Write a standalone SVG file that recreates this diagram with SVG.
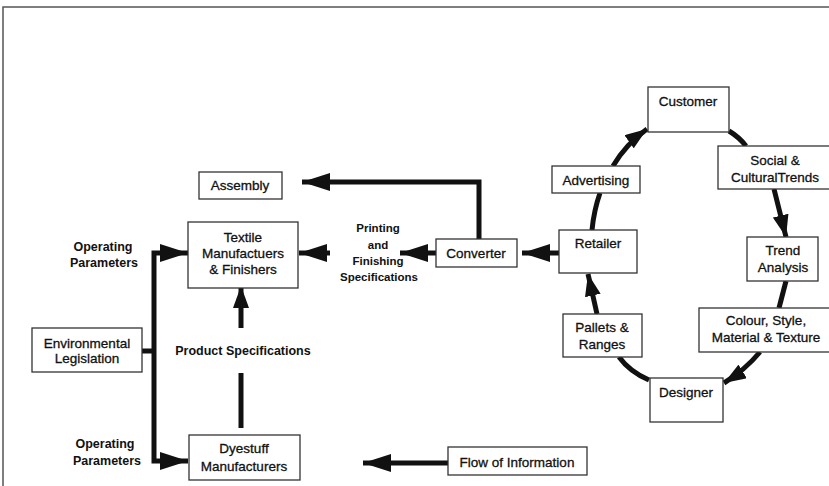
<svg xmlns="http://www.w3.org/2000/svg" width="829" height="486" viewBox="0 0 829 486">
<style>
.box{fill:#fff;stroke:#333;stroke-width:1.3}
.t{font-family:"Liberation Sans",Arial,sans-serif;font-size:13.5px;fill:#111;stroke:#111;stroke-width:0.3;text-anchor:middle}
.lb{font-family:"Liberation Sans",Arial,sans-serif;font-size:12.5px;font-weight:bold;fill:#111;text-anchor:middle}
.c{fill:none;stroke:#111;stroke-width:5}
</style>
<defs>
<marker id="ah" markerUnits="userSpaceOnUse" markerWidth="28" markerHeight="18" refX="28" refY="9" orient="auto" viewBox="0 0 28 18">
<path d="M0,0 L28,9 L0,18 z" fill="#111"/>
</marker>
<marker id="as" markerUnits="userSpaceOnUse" markerWidth="22" markerHeight="16" refX="22" refY="8" orient="auto" viewBox="0 0 22 16">
<path d="M0,0 L22,8 L0,16 z" fill="#111"/>
</marker>
</defs>
<rect width="829" height="486" fill="#fff"/>
<path d="M3,486 V7 H829" fill="none" stroke="#555" stroke-width="1.5"/>

<g id="connectors">
<path class="c" d="M479,239 V182 H302" marker-end="url(#ah)"/>
<path class="c" d="M436,253 H400" marker-end="url(#ah)"/>
<path class="c" d="M330,253 H299" marker-end="url(#ah)"/>
<path class="c" d="M559,253 H522" marker-end="url(#ah)"/>
<path class="c" d="M154,352 V253 H188" marker-end="url(#ah)"/>
<path class="c" d="M154,352 V461 H188" marker-end="url(#ah)"/>
<path class="c" d="M142,351 H154"/>
<path class="c" d="M241,328 V286" marker-end="url(#as)"/>
<path class="c" d="M241,428 V373"/>
<path class="c" d="M448,463 H363" marker-end="url(#ah)"/>
<path class="c" d="M592,230 Q594,210 600,193"/>
<path class="c" d="M613,166 Q626,144 647,129" marker-end="url(#as)"/>
<path class="c" d="M729,131 Q739,137 746,146"/>
<path class="c" d="M774,189 L786,237" marker-end="url(#as)"/>
<path class="c" d="M786,281 L779,308"/>
<path class="c" d="M760,352 Q745,370 724,383" marker-end="url(#as)"/>
<path class="c" d="M649,380 Q630,372 619,357"/>
<path class="c" d="M597,314 L588,274" marker-end="url(#as)"/>
</g>

<g id="customer"><rect class="box" x="648" y="87" width="81" height="45"/><text class="t" x="688" y="106">Customer</text></g>
<g id="social"><rect class="box" x="718" y="146" width="115" height="43"/><text class="t" x="775" y="165">Social &amp;</text><text class="t" x="775" y="182">CulturalTrends</text></g>
<g id="advertising"><rect class="box" x="552" y="166" width="88" height="27"/><text class="t" x="596" y="185">Advertising</text></g>
<g id="assembly"><rect class="box" x="199" y="172" width="83" height="27"/><text class="t" x="240" y="190">Assembly</text></g>
<g id="textile"><rect class="box" x="188" y="222" width="110" height="66"/><text class="t" x="243" y="242">Textile</text><text class="t" x="243" y="258">Manufactuers</text><text class="t" x="243" y="274">&amp; Finishers</text></g>
<g id="converter"><rect class="box" x="436" y="239" width="81" height="28"/><text class="t" x="476" y="258">Converter</text></g>
<g id="retailer"><rect class="box" x="559" y="230" width="78" height="43"/><text class="t" x="598" y="248">Retailer</text></g>
<g id="trend"><rect class="box" x="747" y="237" width="71" height="44"/><text class="t" x="783" y="255">Trend</text><text class="t" x="783" y="272">Analysis</text></g>
<g id="environmental"><rect class="box" x="32" y="328" width="110" height="44"/><text class="t" x="87" y="348">Environmental</text><text class="t" x="87" y="363">Legislation</text></g>
<g id="pallets"><rect class="box" x="563" y="314" width="79" height="43"/><text class="t" x="602" y="332">Pallets &amp;</text><text class="t" x="602" y="349">Ranges</text></g>
<g id="colour"><rect class="box" x="699" y="308" width="134" height="44"/><text class="t" x="766" y="325">Colour, Style,</text><text class="t" x="766" y="342">Material &amp; Texture</text></g>
<g id="designer"><rect class="box" x="650" y="378" width="73" height="44"/><text class="t" x="686" y="397">Designer</text></g>
<g id="dyestuff"><rect class="box" x="189" y="435" width="111" height="45"/><text class="t" x="244" y="453">Dyestuff</text><text class="t" x="244" y="471">Manufacturers</text></g>
<g id="flow"><rect class="box" x="448" y="447" width="139" height="28"/><text class="t" x="517" y="467">Flow of Information</text></g>

<g id="labels">
<text class="lb" x="103" y="251">Operating</text><text class="lb" x="104" y="267">Parameters</text>
<text class="lb" x="105" y="448">Operating</text><text class="lb" x="107" y="465">Parameters</text>
<text class="lb" x="378" y="232" style="font-size:11.5px">Printing</text>
<text class="lb" x="378" y="249" style="font-size:11.5px">and</text>
<text class="lb" x="378" y="265" style="font-size:11.5px">Finishing</text>
<text class="lb" x="379" y="281" style="font-size:11.5px">Specifications</text>
<text class="lb" x="243" y="355">Product Specifications</text>
</g>
</svg>
